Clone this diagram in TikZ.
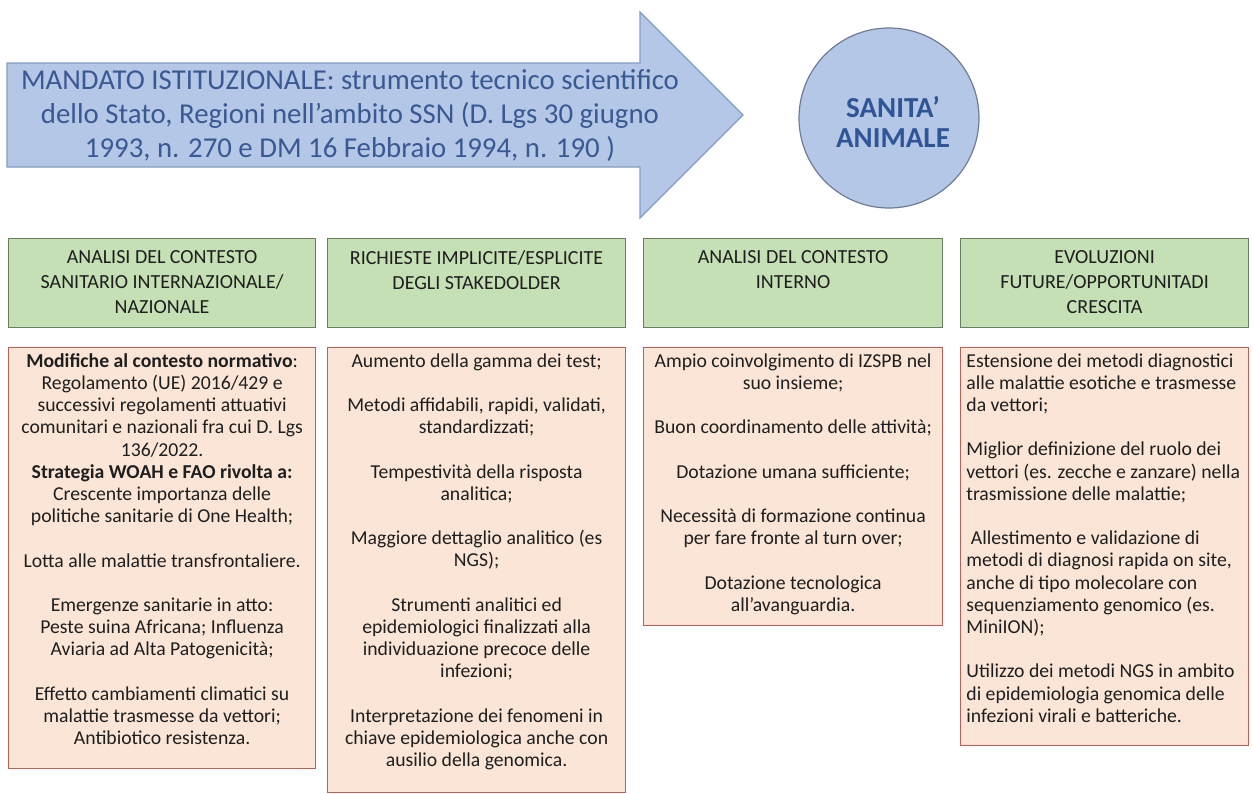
\documentclass[tikz,border=0pt]{standalone}
\usepackage{fontspec}
\setmainfont{Carlito}
\usetikzlibrary{positioning}

\definecolor{arrowfill}{RGB}{180,199,231}
\definecolor{arrowline}{RGB}{130,155,200}
\definecolor{arrowtext}{RGB}{58,88,145}
\definecolor{circline}{RGB}{110,125,150}
\definecolor{circtext}{RGB}{47,85,151}
\definecolor{headfill}{RGB}{197,224,180}
\definecolor{headline}{RGB}{105,125,95}
\definecolor{bodyfill}{RGB}{251,229,214}
\definecolor{bodyline}{RGB}{190,95,85}
\definecolor{txtdark}{RGB}{30,30,30}

\newcommand{\lnskip}{11.1pt}

\tikzset{
    headbox/.style={draw=headline, fill=headfill, line width=0.6pt, inner sep=0pt, anchor=north west, minimum height=44.5pt},
    bodybox/.style={draw=bodyline, fill=bodyfill, line width=0.6pt, inner sep=0pt, anchor=north west},
    headtxt/.style={font=\fontsize{10}{12.5}\selectfont, align=center, inner sep=0pt, text=txtdark},
    bodytxt/.style={font=\fontsize{9.85}{11.1}\selectfont, align=center, inner sep=0pt, text=txtdark}
}

\begin{document}
\begin{tikzpicture}[x=0.5pt,y=-0.5pt]
    \useasboundingbox (0,0) rectangle (1253,793);

    % arrow and circle
    \draw [fill=arrowfill, draw=arrowline, line width=0.6pt]
        (7,63) -- (640,63) -- (640,12) -- (743,115) -- (640,218) -- (640,167) -- (7,167) -- cycle;
    \node [font=\fontsize{14.4}{17}\selectfont, align=center, text=arrowtext] (mandato) at (350,116)
        {MANDATO ISTITUZIONALE: strumento tecnico scientifico\\
         dello Stato, Regioni nell’ambito SSN (D. Lgs 30 giugno\\
         1993, n. 270 e DM 16 Febbraio 1994, n. 190 )};

    \node [circle, draw=circline, fill=arrowfill, line width=0.6pt, minimum size=90pt, inner sep=0pt] (sanita) at (889,118) {};
    \node [font=\bfseries\fontsize{14.5}{15}\selectfont, align=center, text=circtext] (sanitatxt) at (893,122) {SANITA’\\ANIMALE};

    % header boxes
    \node [headbox, minimum width=153.5pt] (h1) at (8,238) {};
    \node [headbox, minimum width=149pt]   (h2) at (327,238) {};
    \node [headbox, minimum width=149.5pt] (h3) at (643,238) {};
    \node [headbox, minimum width=144pt]   (h4) at (960,238) {};

    \node [headtxt, below=6pt of h1.north] (h1t) {ANALISI DEL CONTESTO\\SANITARIO INTERNAZIONALE/\\NAZIONALE};
    \node [headtxt, below=6pt of h2.north] (h2t) {RICHIESTE IMPLICITE/ESPLICITE\\DEGLI STAKEDOLDER};
    \node [headtxt, below=6pt of h3.north] (h3t) {ANALISI DEL CONTESTO\\INTERNO};
    \node [headtxt, below=6pt of h4.north] (h4t) {EVOLUZIONI\\FUTURE/OPPORTUNITADI\\CRESCITA};

    % content boxes
    \node [bodybox, minimum width=153.5pt, minimum height=210.5pt] (b1) at (8,347) {};
    \node [bodybox, minimum width=149pt,   minimum height=222.5pt] (b2) at (327,347) {};
    \node [bodybox, minimum width=149.5pt, minimum height=139pt]   (b3) at (643,347) {};
    \node [bodybox, minimum width=144pt,   minimum height=199pt]   (b4) at (960,347) {};

    \node [bodytxt, below=3pt of b1.north] (b1t) {%
        \textbf{Modifiche al contesto normativo}:\\
        Regolamento (UE) 2016/429 e\\
        successivi regolamenti attuativi\\
        comunitari e nazionali fra cui D. Lgs\\
        136/2022.\\
        \textbf{Strategia WOAH e FAO rivolta a:}\\
        Crescente importanza delle\\
        politiche sanitarie di One Health;\\[\lnskip]
        Lotta alle malattie transfrontaliere.\\[\lnskip]
        Emergenze sanitarie in atto:\\
        Peste suina Africana; Influenza\\
        Aviaria ad Alta Patogenicità;\\[\lnskip]
        Effetto cambiamenti climatici su\\
        malattie trasmesse da vettori;\\
        Antibiotico resistenza.};

    \node [bodytxt, below=3pt of b2.north] (b2t) {%
        Aumento della gamma dei test;\\[\lnskip]
        Metodi affidabili, rapidi, validati,\\
        standardizzati;\\[\lnskip]
        Tempestività della risposta\\
        analitica;\\[\lnskip]
        Maggiore dettaglio analitico (es\\
        NGS);\\[\lnskip]
        Strumenti analitici ed\\
        epidemiologici finalizzati alla\\
        individuazione precoce delle\\
        infezioni;\\[\lnskip]
        Interpretazione dei fenomeni in\\
        chiave epidemiologica anche con\\
        ausilio della genomica.};

    \node [bodytxt, below=3pt of b3.north] (b3t) {%
        Ampio coinvolgimento di IZSPB nel\\
        suo insieme;\\[\lnskip]
        Buon coordinamento delle attività;\\[\lnskip]
        Dotazione umana sufficiente;\\[\lnskip]
        Necessità di formazione continua\\
        per fare fronte al turn over;\\[\lnskip]
        Dotazione tecnologica\\
        all’avanguardia.};

    \node [bodytxt, align=left, below right=3pt and 3pt of b4.north west] (b4t) {%
        Estensione dei metodi diagnostici\\
        alle malattie esotiche e trasmesse\\
        da vettori;\\[\lnskip]
        Miglior definizione del ruolo dei\\
        vettori (es. zecche e zanzare) nella\\
        trasmissione delle malattie;\\[\lnskip]
        \ Allestimento e validazione di\\
        metodi di diagnosi rapida on site,\\
        anche di tipo molecolare con\\
        sequenziamento genomico (es.\\
        MiniION);\\[\lnskip]
        Utilizzo dei metodi NGS in ambito\\
        di epidemiologia genomica delle\\
        infezioni virali e batteriche.};
\end{tikzpicture}
\end{document}
